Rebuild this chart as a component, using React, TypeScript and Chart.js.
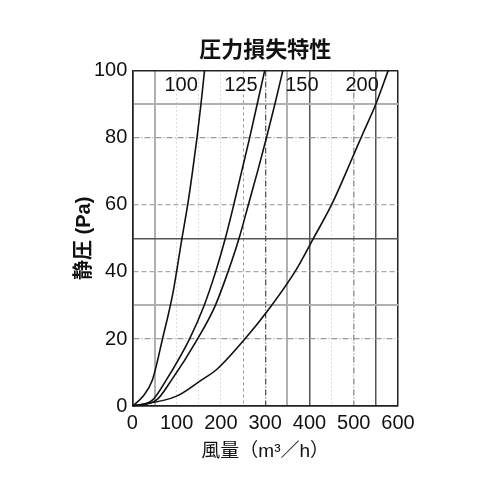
import { useEffect, useRef } from "react"
import { Chart, registerables } from "chart.js"

Chart.register(...registerables)

// 風量 (m³/h) と 静圧 (Pa) の読み取り値
const flow100 = [0, 23, 45, 68, 92, 112, 125, 136, 146, 155, 163]
const pa100 = [0, 2.8, 7.7, 20, 34, 50, 60, 70, 80, 90, 100]

const flow125 = [0, 45, 76, 129, 161, 188, 210, 229, 247, 265, 282, 299]
const pa125 = [0, 1.8, 7.7, 20, 29.6, 40, 50, 60, 70, 80, 90, 100]

const flow150 = [0, 54, 88, 147, 186, 216, 241, 262, 283, 303, 322, 340]
const pa150 = [0, 1.8, 7.7, 20, 29.6, 40, 50, 60, 70, 80, 90, 100]

const flow200 = [0, 100, 155, 191, 254, 306, 367, 409, 450, 497, 520, 550, 578]
const pa200 = [0, 3, 7.7, 11, 20, 28.5, 40, 50, 60, 74, 81, 90, 100]

const curveNames = ["100", "125", "150", "200"]
const labelFlow = [110, 245, 383, 519]
const labelPa = [95.5, 95.5, 95.5, 95.5]

const FONT = "'Liberation Sans', 'Noto Sans CJK JP', sans-serif"

const toPoints = (xs: number[], ys: number[]) => xs.map((x, i) => ({ x, y: ys[i] }))

// x方向の格子線スタイル
const xGrid = (v: number) => {
    if (v === 0 || v === 600) return { color: "#222", width: 1.5, dash: [] as number[] }
    if (v === 50 || v === 350) return { color: "#b0b0b0", width: 2, dash: [] }
    if (v === 400 || v === 550) return { color: "#555", width: 1.5, dash: [] }
    if (v === 300) return { color: "#555", width: 1.3, dash: [6, 2, 1, 2] }
    if (v === 500) return { color: "#999", width: 1.5, dash: [6, 2, 1, 2] }
    if (v === 250) return { color: "#999", width: 1, dash: [3, 3] }
    return { color: "#bbb", width: 1, dash: [1, 3] }
}

// y方向の格子線スタイル
const yGrid = (v: number) => {
    if (v === 0 || v === 100) return { color: "#222", width: 1.5, dash: [] as number[] }
    if (v === 10 || v === 70) return { color: "rgba(0,0,0,0)", width: 0, dash: [] }
    if (v === 30 || v === 90) return { color: "#b0b0b0", width: 2, dash: [] }
    if (v === 50) return { color: "#555", width: 1.5, dash: [] }
    if (v === 20 || v === 80) return { color: "#999", width: 1.3, dash: [6, 2, 1, 2] }
    return { color: "#aaa", width: 1.3, dash: [5, 3] }
}

const curveLabels = {
    id: "curveLabels",
    afterDatasetsDraw(chart: any) {
        const { ctx, scales } = chart
        ctx.save()
        ctx.font = `20px ${FONT}`
        ctx.fillStyle = "#111"
        ctx.textAlign = "center"
        ctx.textBaseline = "middle"
        curveNames.forEach((name, i) => {
            ctx.fillText(name, scales.x.getPixelForValue(labelFlow[i]), scales.y.getPixelForValue(labelPa[i]))
        })
        ctx.restore()
    },
}

export default function App() {
    const chartRef = useRef<HTMLCanvasElement>(null)
    const chartInstance = useRef<Chart | null>(null)

    useEffect(() => {
        if (!chartRef.current) return
        if (chartInstance.current) chartInstance.current.destroy()
        const ctx = chartRef.current.getContext("2d")
        if (!ctx) return

        Chart.defaults.font.family = FONT
        Chart.defaults.color = "#000"

        const line = {
            borderColor: "#111",
            borderWidth: 1.6,
            pointRadius: 0,
            cubicInterpolationMode: "monotone" as const,
            fill: false,
        }

        chartInstance.current = new Chart(ctx, {
            type: "line",
            data: {
                datasets: [
                    { label: "100", data: toPoints(flow100, pa100), ...line },
                    { label: "125", data: toPoints(flow125, pa125), ...line },
                    { label: "150", data: toPoints(flow150, pa150), ...line },
                    { label: "200", data: toPoints(flow200, pa200), ...line },
                ],
            },
            options: {
                animation: false,
                responsive: false,
                layout: { padding: { left: 64, right: 102, top: 0, bottom: 37 } },
                plugins: {
                    legend: { display: false },
                    tooltip: { enabled: false },
                    title: {
                        display: true,
                        fullSize: false,
                        text: "圧力損失特性",
                        color: "#111",
                        font: { size: 22, weight: "bold", family: FONT },
                        padding: { top: 38, bottom: 6 },
                    },
                },
                scales: {
                    x: {
                        type: "linear",
                        min: 0,
                        max: 600,
                        ticks: {
                            stepSize: 50,
                            autoSkip: false,
                            maxRotation: 0,
                            padding: 5,
                            color: "#111",
                            font: { size: 20 },
                            callback: (v: any) => (Number(v) % 100 === 0 ? String(v) : ""),
                        },
                        grid: {
                            drawTicks: false,
                            color: (c: any) => xGrid(c.tick?.value ?? 0).color,
                            lineWidth: (c: any) => xGrid(c.tick?.value ?? 0).width,
                        },
                        border: {
                            color: "#222",
                            width: 1.5,
                            dash: (c: any) => xGrid(c.tick?.value ?? 0).dash,
                        } as any,
                        title: {
                            display: true,
                            text: "風量（m³／h）",
                            color: "#111",
                            font: { size: 19 },
                            padding: { top: 0, bottom: 0 },
                        },
                    },
                    y: {
                        min: 0,
                        max: 100,
                        ticks: {
                            stepSize: 10,
                            autoSkip: false,
                            padding: 5,
                            color: "#111",
                            font: { size: 20 },
                            callback: (v: any) => (Number(v) % 20 === 0 ? String(v) : ""),
                        },
                        grid: {
                            drawTicks: false,
                            color: (c: any) => yGrid(c.tick?.value ?? 0).color,
                            lineWidth: (c: any) => yGrid(c.tick?.value ?? 0).width,
                        },
                        border: {
                            color: "#222",
                            width: 1.5,
                            dash: (c: any) => yGrid(c.tick?.value ?? 0).dash,
                        } as any,
                        title: {
                            display: true,
                            text: "静圧 (Pa)",
                            color: "#111",
                            font: { size: 20, weight: "bold" },
                            padding: { top: 8, bottom: -7 },
                        },
                    },
                },
            },
            plugins: [curveLabels],
        })

        return () => {
            if (chartInstance.current) chartInstance.current.destroy()
        }
    }, [])

    return (
        <div style={{ position: "fixed", left: 0, top: 0, width: 500, height: 500, background: "#fff" }}>
            <canvas ref={chartRef} width={500} height={500} style={{ width: 500, height: 500 }} />
        </div>
    )
}
